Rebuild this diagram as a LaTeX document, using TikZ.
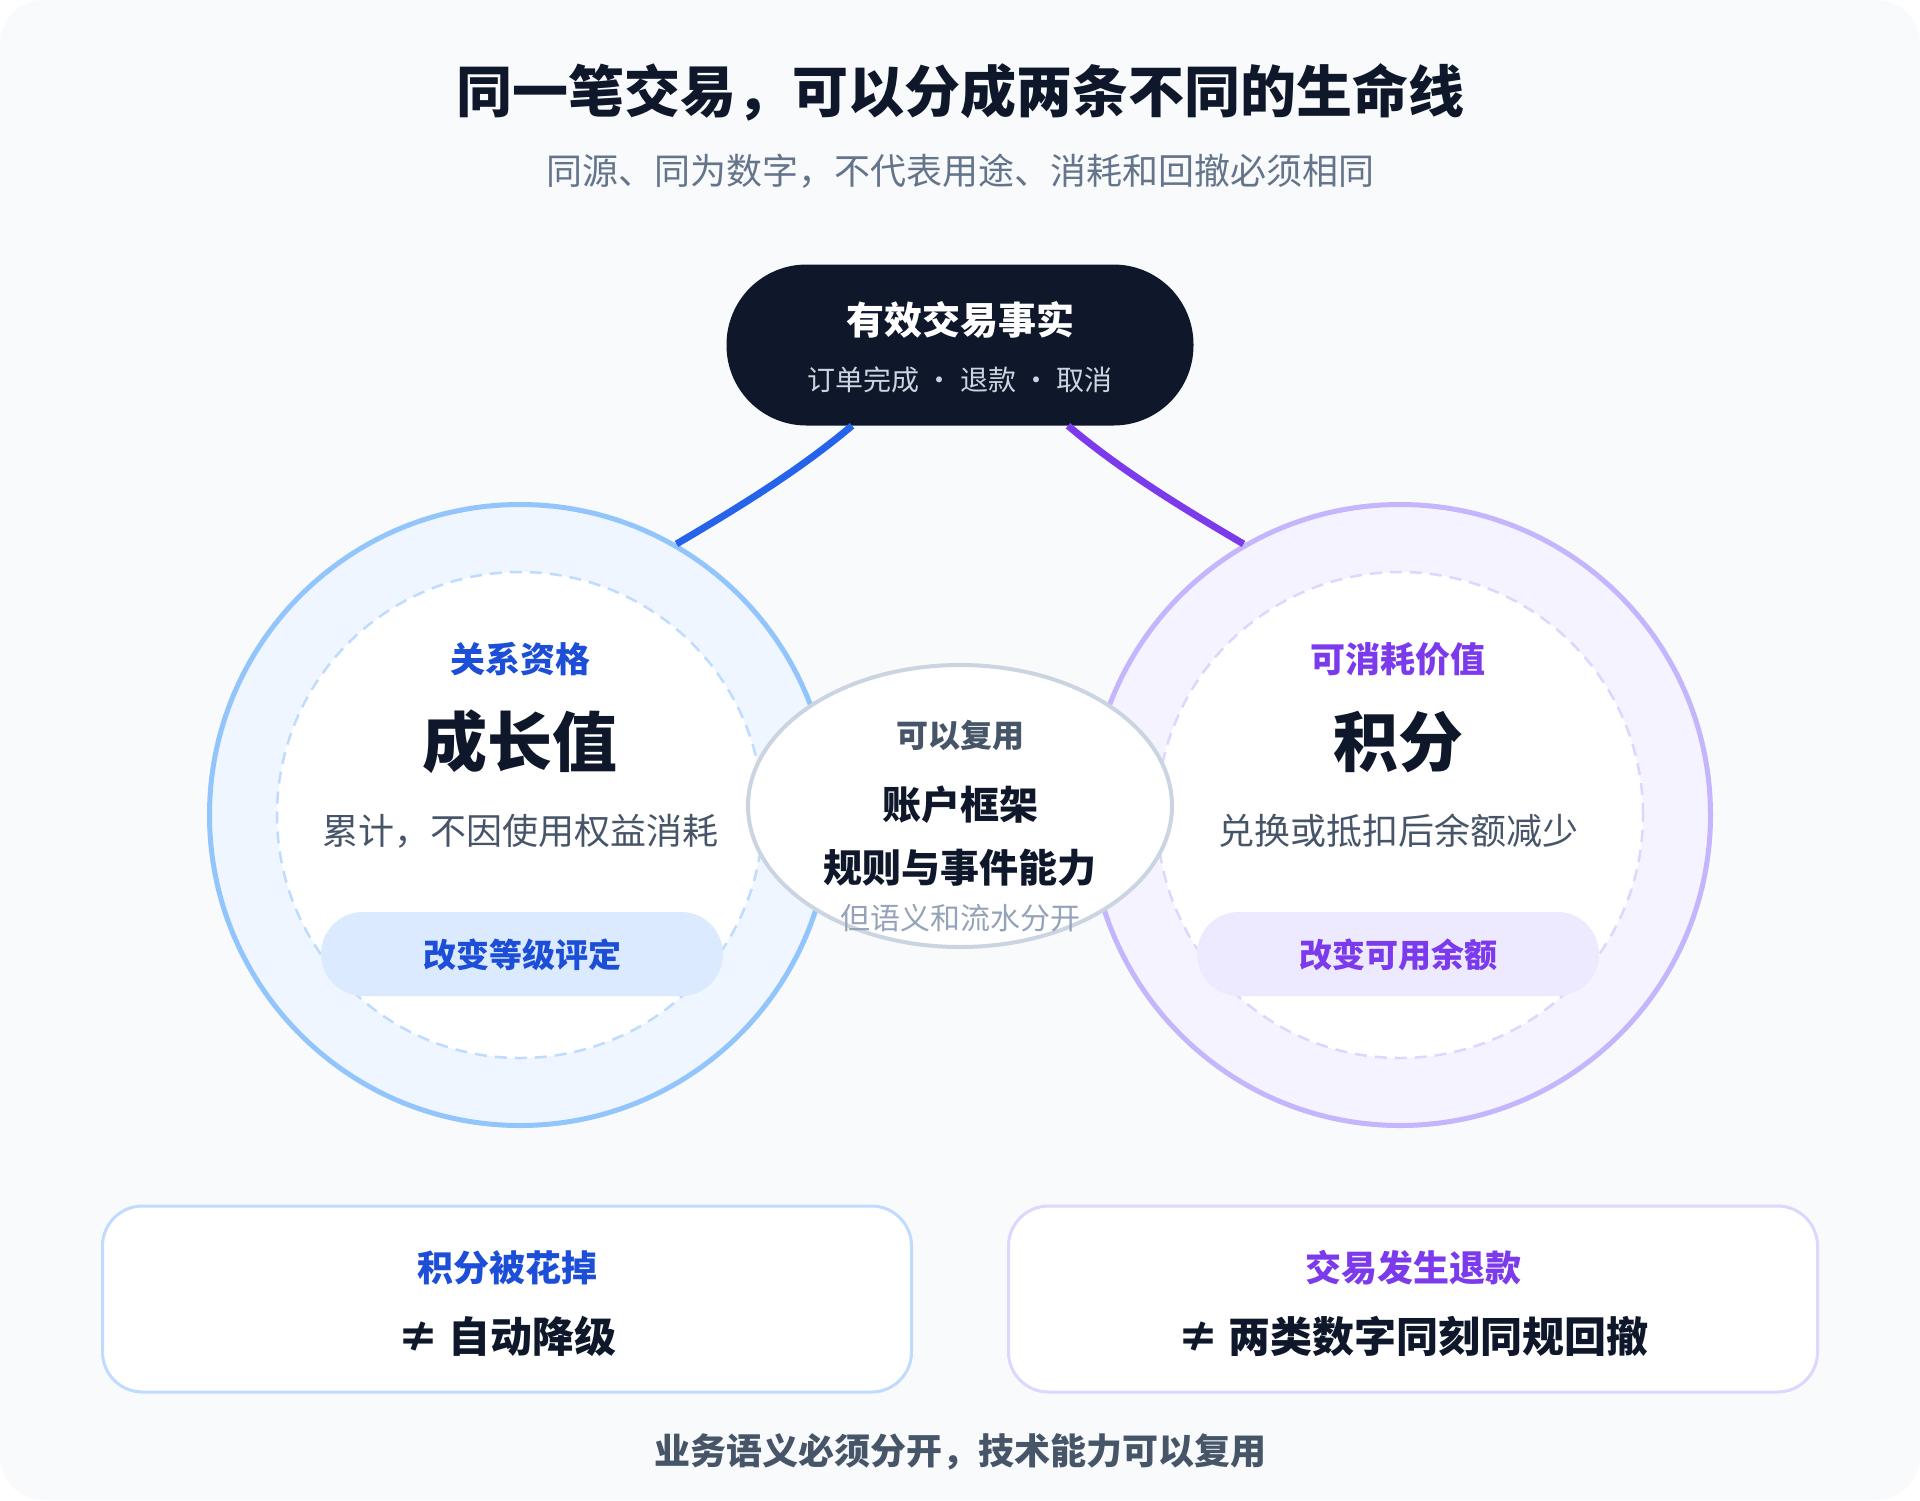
\documentclass[tikz,border=0pt]{standalone}
\usepackage{fontspec}
\setmainfont{Noto Sans CJK SC}
\usetikzlibrary{shapes.geometric}
\definecolor{bg}{HTML}{F8FAFC}
\definecolor{ink}{HTML}{0F172A}
\definecolor{subgray}{HTML}{64748B}
\definecolor{descgray}{HTML}{475569}
\definecolor{lightgray}{HTML}{94A3B8}
\definecolor{pillsub}{HTML}{CBD5E1}
\definecolor{lineblue}{HTML}{2563EB}
\definecolor{linepurple}{HTML}{7C3AED}
\definecolor{edgeblue}{HTML}{93C5FD}
\definecolor{ringblue}{HTML}{EFF6FF}
\definecolor{dashblue}{HTML}{BFDBFE}
\definecolor{tagblue}{HTML}{DBEAFE}
\definecolor{textblue}{HTML}{1D4ED8}
\definecolor{edgepurple}{HTML}{C4B5FD}
\definecolor{ringpurple}{HTML}{F5F3FF}
\definecolor{dashpurple}{HTML}{DDD6FE}
\definecolor{tagpurple}{HTML}{EDE9FE}
\definecolor{textpurple}{HTML}{7C3AED}
\definecolor{midedge}{HTML}{CBD5E1}
\newcommand\setfs[1]{\fontsize{#1pt}{#1pt}\selectfont}
\tikzset{
  txt/.style={inner sep=0pt, anchor=center},
  outerring/.style={circle, minimum size=621pt, inner sep=0pt, line width=5pt},
  innerdisc/.style={circle, minimum size=486pt, inner sep=0pt, fill=white, line width=2.5pt, dash pattern=on 12pt off 8pt},
  tagpill/.style={rectangle, rounded corners=42pt, minimum width=402pt, minimum height=84pt, inner sep=0pt},
  bottombox/.style={rectangle, rounded corners=40pt, minimum width=809pt, minimum height=186pt, fill=white, line width=3pt, inner sep=0pt},
  connector/.style={line width=7pt}
}
\begin{document}
\begin{tikzpicture}[x=1pt,y=-1pt]
\useasboundingbox (0,0) rectangle (1920,1500);
\fill[white] (0,0) rectangle (1920,1500);
\fill[bg, rounded corners=44pt] (0,0) rectangle (1920,1500);

% title
\node[txt, text=ink] (title) at (960,92) {\setfs{56}\bfseries 同一笔交易，可以分成两条不同的生命线};
\node[txt, text=subgray] (subtitle) at (960,171) {\setfs{36}同源、同为数字，不代表用途、消耗和回撤必须相同};

% circles
\node[outerring, fill=ringblue, draw=edgeblue] (lc) at (520,815) {};
\node[innerdisc, draw=dashblue] (lci) at (520,815) {};
\node[outerring, fill=ringpurple, draw=edgepurple] (rc) at (1400,815) {};
\node[innerdisc, draw=dashpurple] (rci) at (1400,815) {};

% top pill
\node[rectangle, rounded corners=80pt, minimum width=467pt, minimum height=161pt, fill=ink, inner sep=0pt] (fact) at (960,345) {};
\node[txt, text=white] (facttitle) at (960,320) {\setfs{38}\bfseries 有效交易事实};
\node[txt, text=pillsub] (factsub) at (960,380) {\setfs{28}订单完成 · 退款 · 取消};

% connectors
\draw[connector, lineblue] ([xshift=-108pt]fact.south) .. controls +(-52,44) and +(63,-37) .. (lc.60);
\draw[connector, linepurple] ([xshift=108pt]fact.south) .. controls +(52,44) and +(-63,-37) .. (rc.120);

% left content
\node[txt, text=textblue] (llabel) at (520,659) {\setfs{35}\bfseries 关系资格};
\node[txt, text=ink] (lbig) at (520,742) {\setfs{65}\bfseries 成长值};
\node[txt, text=descgray] (ldesc) at (520,831) {\setfs{36}累计，不因使用权益消耗};
\node[tagpill, fill=tagblue] (ltag) at (522,954) {};
\node[txt, text=textblue] (ltagtext) at (522,955) {\setfs{33}\bfseries 改变等级评定};

% right content
\node[txt, text=textpurple] (rlabel) at (1398,659) {\setfs{35}\bfseries 可消耗价值};
\node[txt, text=ink] (rbig) at (1398,742) {\setfs{65}\bfseries 积分};
\node[txt, text=descgray] (rdesc) at (1398,831) {\setfs{36}兑换或抵扣后余额减少};
\node[tagpill, fill=tagpurple] (rtag) at (1398,954) {};
\node[txt, text=textpurple] (rtagtext) at (1398,955) {\setfs{33}\bfseries 改变可用余额};

% middle ellipse
\node[ellipse, minimum width=424pt, minimum height=282pt, fill=white, draw=midedge, line width=4pt, inner sep=0pt] (mid) at (960,806) {};
\node[txt, text=descgray] (midlabel) at (960,735) {\setfs{32}\bfseries 可以复用};
\node[txt, text=ink] (mid1) at (960,805) {\setfs{39}\bfseries 账户框架};
\node[txt, text=ink] (mid2) at (960,868) {\setfs{39}\bfseries 规则与事件能力};
\node[txt, text=lightgray] (mid3) at (960,918) {\setfs{30}但语义和流水分开};

% bottom boxes
\node[bottombox, draw=dashblue] (lbox) at (507,1299) {};
\node[txt, text=textblue] (lboxt) at (507,1268) {\setfs{36}\bfseries 积分被花掉};
\node[txt, text=ink] (lboxb) at (507,1336) {\setfs{42}\bfseries ≠ 自动降级};
\node[bottombox, draw=dashpurple] (rbox) at (1413,1299) {};
\node[txt, text=textpurple] (rboxt) at (1413,1268) {\setfs{36}\bfseries 交易发生退款};
\node[txt, text=ink] (rboxb) at (1413,1336) {\setfs{42}\bfseries ≠ 两类数字同刻同规回撤};

% footer
\node[txt, text=descgray] (footer) at (960,1452) {\setfs{36}\bfseries 业务语义必须分开，技术能力可以复用};
\end{tikzpicture}
\end{document}
